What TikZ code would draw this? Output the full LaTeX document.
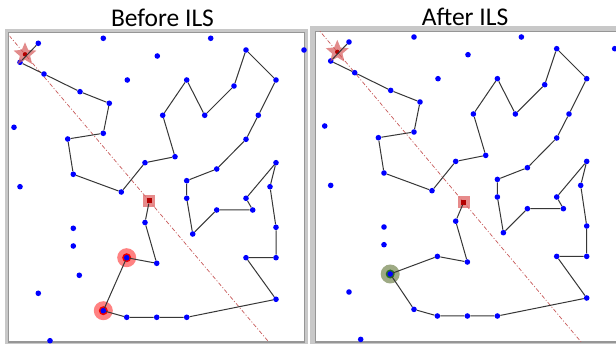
\documentclass[tikz,border=0pt]{standalone}
\usepackage{fontspec}
\setmainfont{Carlito}
\usetikzlibrary{shapes.geometric,calc}
\definecolor{dotblue}{RGB}{0,0,255}
\definecolor{tourgray}{RGB}{55,55,55}
\definecolor{guidered}{RGB}{200,90,90}
\definecolor{hlpink}{RGB}{255,130,130}
\definecolor{hlred}{RGB}{240,0,0}
\definecolor{hlolive}{RGB}{158,170,132}
\definecolor{hlgreen}{RGB}{40,110,40}
\definecolor{sqlight}{RGB}{225,110,110}
\definecolor{sqdark}{RGB}{180,0,0}
\definecolor{starred}{RGB}{215,90,90}
\definecolor{frameout}{RGB}{200,200,200}
\definecolor{framein}{RGB}{150,150,150}
\begin{document}
\begin{tikzpicture}[x=1pt,y=-1pt,
  dot/.style={circle,fill=dotblue,inner sep=0pt,minimum size=5.6pt},
  tour/.style={draw=tourgray,line width=1pt},
  guide/.style={draw=guidered,line width=0.7pt,dash pattern=on 4pt off 2pt on 1pt off 2pt},
  hlouter/.style={circle,fill=hlpink,inner sep=0pt,minimum size=19pt},
  hlinner/.style={circle,fill=hlred,inner sep=0pt,minimum size=9pt},
  goodouter/.style={circle,fill=hlolive,inner sep=0pt,minimum size=19pt},
  goodinner/.style={circle,fill=hlgreen,inner sep=0pt,minimum size=9pt},
  depot/.style={star,star points=5,star point ratio=2.2,fill=starred,fill opacity=0.7,inner sep=0pt,minimum size=24pt},
  depotcore/.style={circle,fill=sqdark,inner sep=0pt,minimum size=4.5pt},
  goal/.style={rectangle,fill=sqlight,fill opacity=0.8,inner sep=0pt,minimum size=12pt},
  goalcore/.style={rectangle,fill=sqdark,inner sep=0pt,minimum size=5pt},
  title/.style={font=\fontsize{25.5}{28}\selectfont,anchor=base,inner sep=0pt}
]
\useasboundingbox (0,0) rectangle (616,344);
\fill[white] (0,0) rectangle (616,344);

% titles
\node[title] (t1) at (162.5,26.5) {Before ILS};
\node[title] (t2) at (465,26) {After ILS};

% frames
\draw[frameout,line width=4pt] (7,31) rectangle (306,343.5);
\draw[framein,line width=1.3pt] (8.8,32.8) rectangle (304.4,341.9);
\draw[frameout,line width=5pt] (312.5,29) rectangle (640,343.5);
\draw[framein,line width=1.3pt] (315.4,31.4) rectangle (640,341.9);

% highlights (under the dots)
\node[hlouter] (h1) at (103.3,310.7) {};
\node[hlinner] (h1c) at (103.3,310.7) {};
\node[hlouter] (h2) at (126.7,257.7) {};
\node[hlinner] (h2c) at (126.7,257.7) {};
\node[goodouter] (g1) at (390.2,274) {};
\node[goodinner] (g1c) at (390.2,274) {};

% depot star and goal square positions
\coordinate (Ls) at (25,54.3);
\coordinate (Lq) at (149.3,201);
\coordinate (Rs) at (337.3,51.9);
\coordinate (Rq) at (463.7,202.3);

% guide lines
\begin{scope}
  \clip (9.5,33.5) rectangle (304,341.5);
  \draw[guide] ($(Ls)!-2!(Lq)$) -- ($(Ls)!3!(Lq)$);
\end{scope}
\begin{scope}
  \clip (316,32) rectangle (616,341.5);
  \draw[guide] ($(Rs)!-2!(Rq)$) -- ($(Rs)!3!(Rq)$);
\end{scope}

% tour dots (both panels)
\foreach \n/\x/\y in {
 1/38.3/43.3, 2/20/62.3, 3/44/74, 4/80/91.7, 5/109.3/103.3, 6/103.3/133.3,
 7/67.7/139, 8/73.3/174.3, 9/121.3/192, 10/145/162.7, 11/175/156.7,
 12/162.7/115.3, 13/186.7/80, 14/204.7/115.3, 15/234/86, 16/246/50,
 17/276/80, 18/258.3/115.3, 19/246/139.3, 20/216.7/169, 21/186.7/180.7,
 22/186.7/198.3, 23/192.7/234, 24/216.7/210, 25/252.7/210, 26/246/198.3,
 27/276/162.7, 28/270/186.7, 29/276/227.3, 30/276/257.7, 31/246/257.7,
 32/276/299.3, 33/186.7/317.3, 34/156.7/317.3, 35/126.7/317.3,
 36/103.3/310.7, 37/126.7/257.7, 38/156.7/263.3, 39/145/222.5}
{
  \node[dot] (L\n) at (\x,\y) {};
  \node[dot] (R\n) at ({\x+310.7},{\y-1.3}) {};
}

% unvisited dots
\foreach \n/\x/\y in {
 1/103.3/38.3, 2/210.7/38.3, 3/157.3/56, 4/304/50, 5/127.3/80, 6/14/127.3,
 7/20/186.7, 8/73.3/228.3, 9/73.3/246, 10/38.3/293.3, 11/50/340.7}
{
  \node[dot] (LI\n) at (\x,\y) {};
  \node[dot] (RI\n) at ({\x+310.7},{\y-1.3}) {};
}
\node[dot] (LI12) at (79.3,275.3) {};
\node[dot] (RG) at (390.2,274) {};

% depot and goal markers
\node[depot] (Lstar) at (Ls) {};
\node[depotcore] (Lstarc) at (Ls) {};
\node[depot] (Rstar) at (Rs) {};
\node[depotcore] (Rstarc) at (Rs) {};
\node[goal] (Lsq) at (Lq) {};
\node[goalcore] (Lsqc) at (Lq) {};
\node[goal] (Rsq) at (Rq) {};
\node[goalcore] (Rsqc) at (Rq) {};

% tours
\draw[tour] (L1) -- (L2) -- (L3) -- (L4) -- (L5) -- (L6) -- (L7) -- (L8) -- (L9)
  -- (L10) -- (L11) -- (L12) -- (L13) -- (L14) -- (L15) -- (L16) -- (L17) -- (L18)
  -- (L19) -- (L20) -- (L21) -- (L22) -- (L23) -- (L24) -- (L25) -- (L26) -- (L27)
  -- (L28) -- (L29) -- (L30) -- (L31) -- (L32) -- (L33) -- (L34) -- (L35) -- (L36)
  -- (L37) -- (L38) -- (L39) -- (Lsqc);
\draw[tour] (R1) -- (R2) -- (R3) -- (R4) -- (R5) -- (R6) -- (R7) -- (R8) -- (R9)
  -- (R10) -- (R11) -- (R12) -- (R13) -- (R14) -- (R15) -- (R16) -- (R17) -- (R18)
  -- (R19) -- (R20) -- (R21) -- (R22) -- (R23) -- (R24) -- (R25) -- (R26) -- (R27)
  -- (R28) -- (R29) -- (R30) -- (R31) -- (R32) -- (R33) -- (R34) -- (R35) -- (R36)
  -- (RG) -- (R37) -- (R38) -- (R39) -- (Rsqc);
\end{tikzpicture}
\end{document}
